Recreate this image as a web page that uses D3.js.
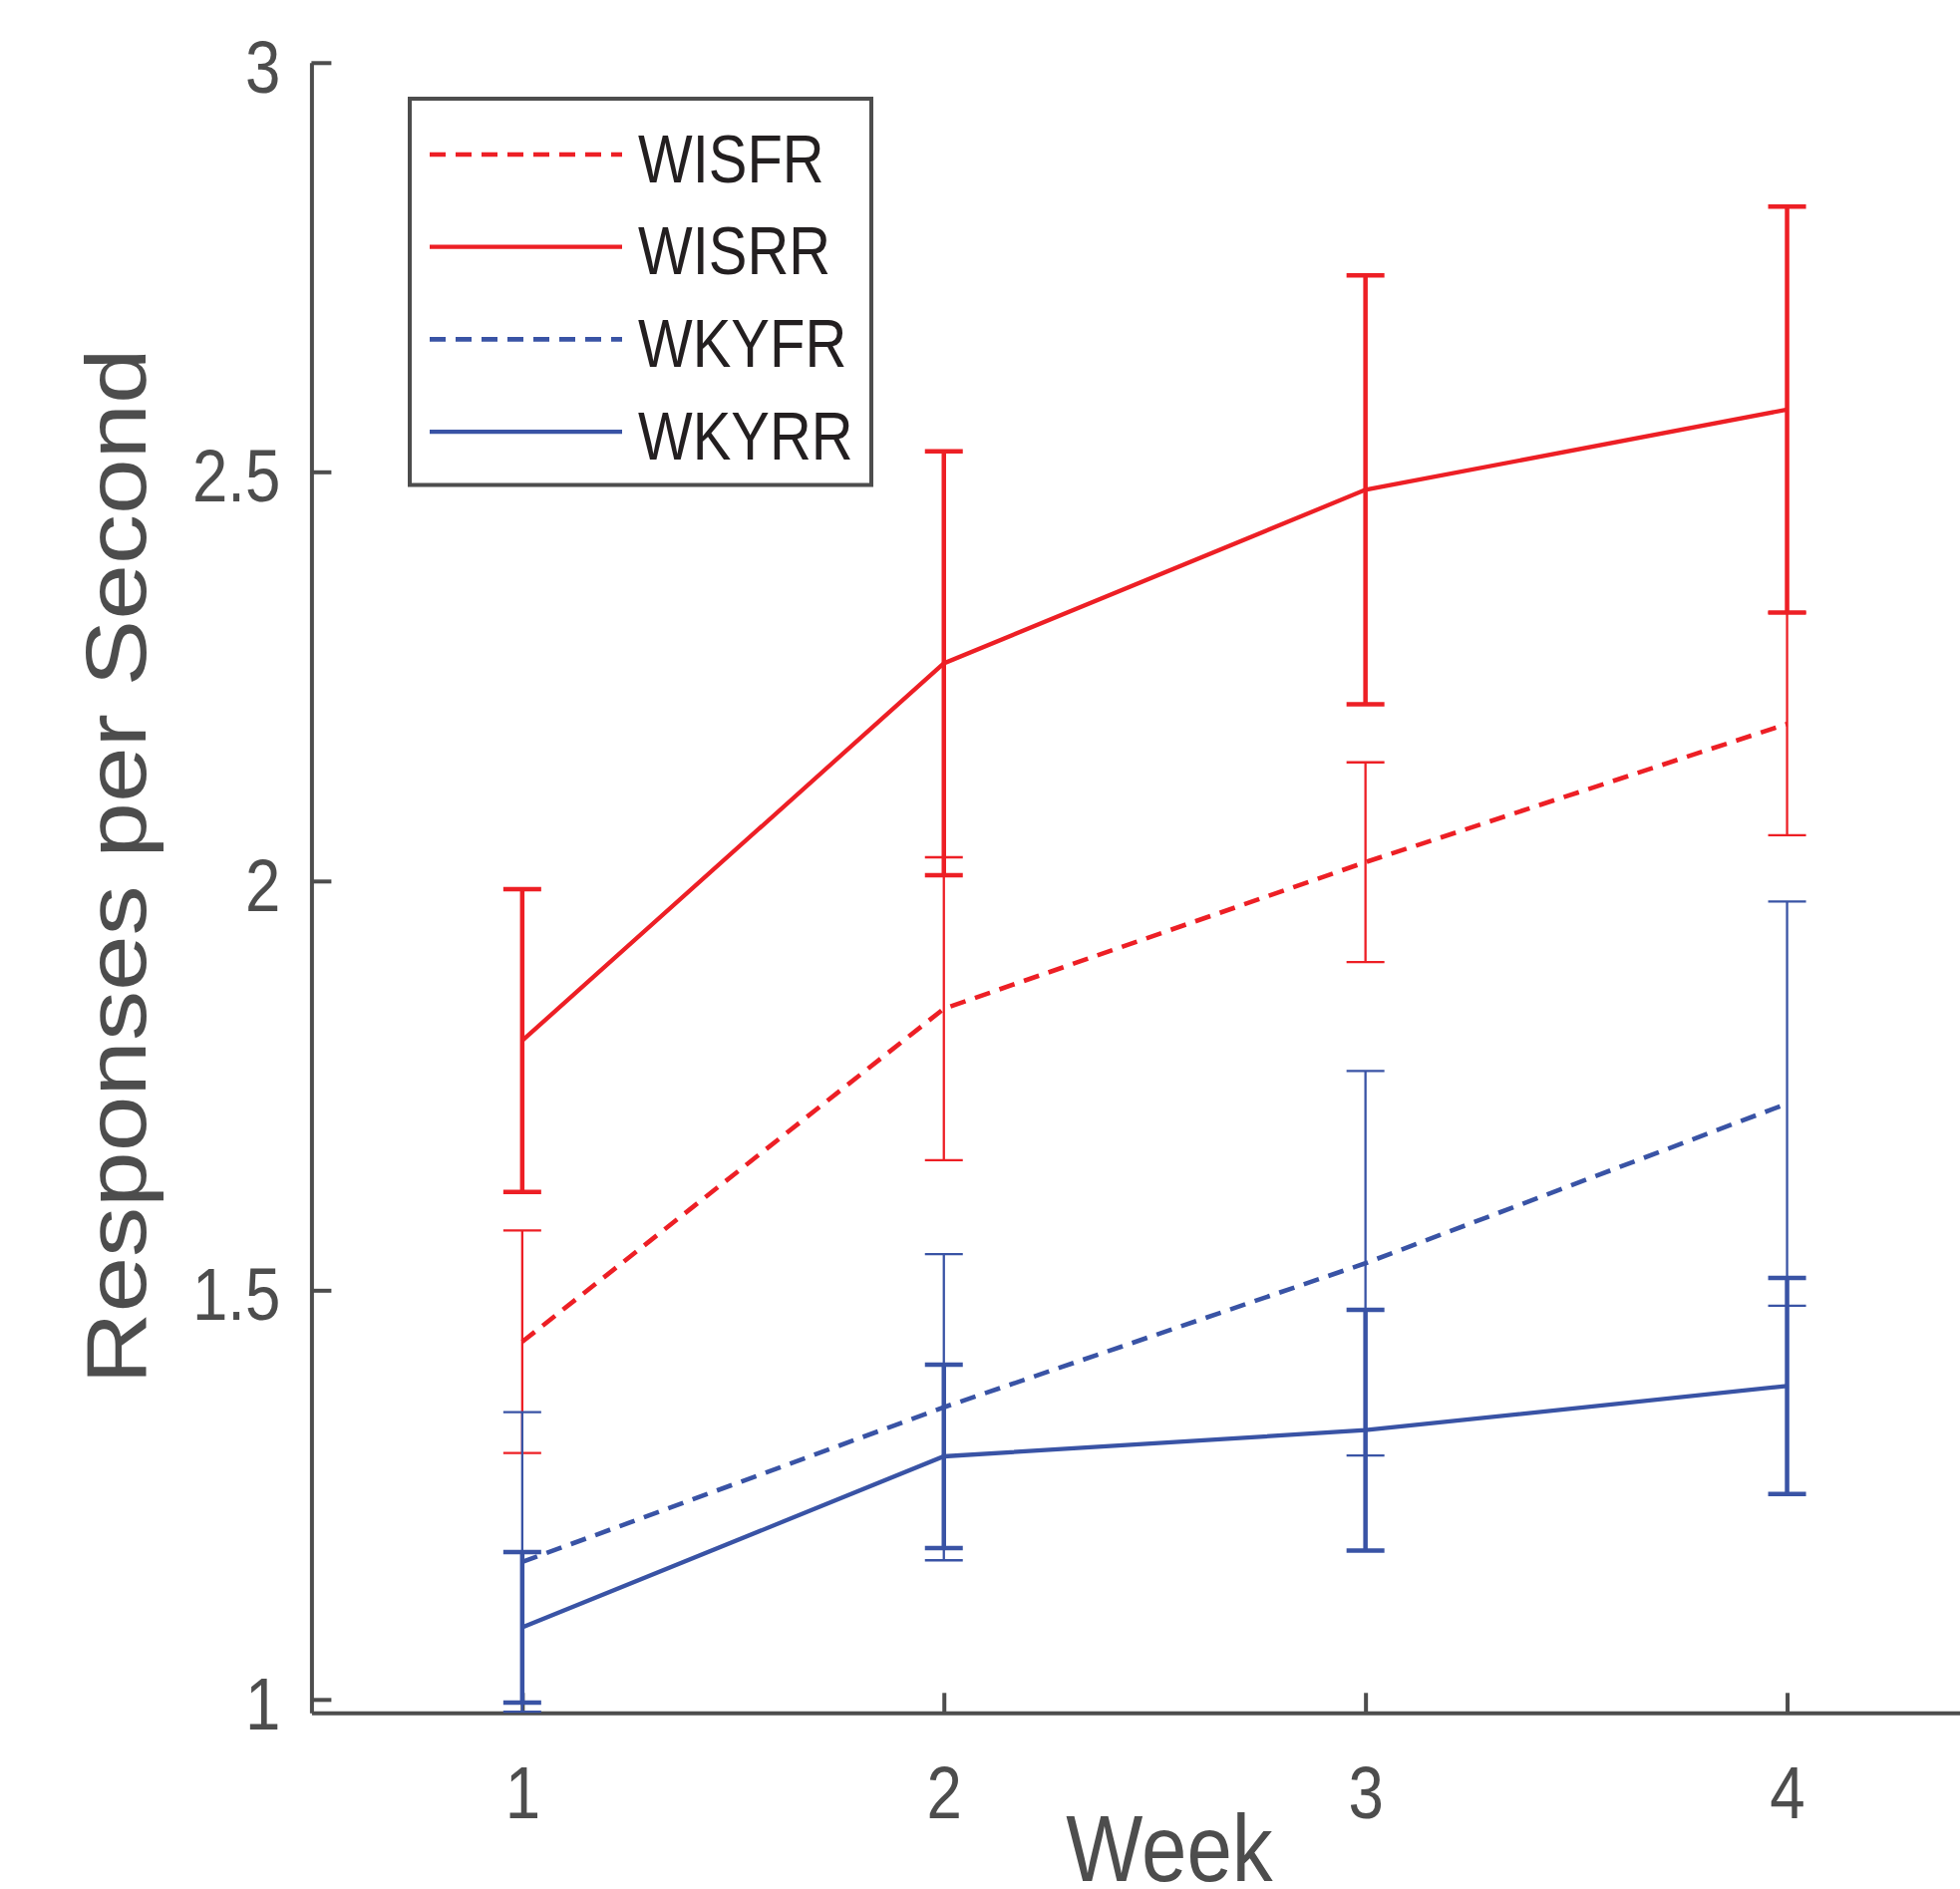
<!DOCTYPE html>
<html>
<head>
<meta charset="utf-8">
<script src="https://cdn.jsdelivr.net/npm/d3@7"></script>
<style>
  html, body { margin: 0; padding: 0; background: #fff; overflow: hidden; }
  svg { display: block; font-family: 'Liberation Sans', Arial, Helvetica, sans-serif; }
</style>
</head>
<body>
<script>
// chart values
var weeks = [1, 2, 3, 4];
var seriesNames = ['WISFR', 'WISRR', 'WKYFR', 'WKYRR'];

var wisfrMean = [1.437, 1.844, 2.023, 2.192];
var wisfrErr = [0.136, 0.185, 0.122, 0.136];
var wisrrMean = [1.805, 2.266, 2.478, 2.576];
var wisrrErr = [0.185, 0.259, 0.262, 0.248];
var wkyfrMean = [1.168, 1.357, 1.533, 1.728];
var wkyfrErr = [0.183, 0.187, 0.235, 0.247];
var wkyrrMean = [1.088, 1.297, 1.329, 1.383];
var wkyrrErr = [0.092, 0.112, 0.147, 0.132];

var yTicks = [1, 1.5, 2, 2.5, 3];
var yTickLabels = ['1', '1.5', '2', '2.5', '3'];
var xTickLabels = ['1', '2', '3', '4'];

var red = '#ed1f25';
var blue = '#3953a5';
var axisGray = '#4d4d4d';
var squish = 'scale(0.86,1)';

var width = 1966;
var height = 1895;

var series = [
  { name: seriesNames[0], mean: wisfrMean, err: wisfrErr, color: red, dashed: true },
  { name: seriesNames[1], mean: wisrrMean, err: wisrrErr, color: red, dashed: false },
  { name: seriesNames[2], mean: wkyfrMean, err: wkyfrErr, color: blue, dashed: true },
  { name: seriesNames[3], mean: wkyrrMean, err: wkyrrErr, color: blue, dashed: false }
];

var svg = d3.select('body').append('svg')
  .attr('width', width)
  .attr('height', height);

var x = d3.scaleLinear().domain([0.5, 4.5]).range([312.4, 2004]);
var y = d3.scaleLinear().domain([0.9836, 3]).range([1718.3, 62.8]);

// axes (ticks point inward, matlab style)
var yAxis = d3.axisLeft(y)
  .tickValues(yTicks)
  .tickFormat(function(d, i) { return yTickLabels[i]; })
  .tickSizeInner(-20)
  .tickSizeOuter(0);

var xAxis = d3.axisBottom(x)
  .tickValues(weeks)
  .tickFormat(function(d, i) { return xTickLabels[i]; })
  .tickSizeInner(-20)
  .tickSizeOuter(0);

var gy = svg.append('g').attr('transform', 'translate(' + x(0.5) + ',0)').call(yAxis);
var gx = svg.append('g').attr('transform', 'translate(0,' + y.range()[0] + ')').call(xAxis);

[gx, gy].forEach(function(g) {
  g.select('.domain').attr('stroke', axisGray).attr('stroke-width', 4);
  g.selectAll('.tick line').attr('stroke', axisGray).attr('stroke-width', 4);
  g.selectAll('.tick text')
    .attr('fill', axisGray)
    .style('font-size', '74px')
    .style('font-family', "'Liberation Sans', Arial, sans-serif");
});

gy.selectAll('.tick text')
  .attr('x', 0)
  .attr('dy', '0.4em')
  .attr('transform', 'translate(-31,0) ' + squish);

gx.selectAll('.tick text')
  .attr('y', 0)
  .attr('dy', 0)
  .attr('transform', 'translate(0,106) ' + squish);

// axis titles
svg.append('text')
  .attr('transform', 'translate(' + 1173 + ',1887) ' + squish)
  .attr('text-anchor', 'middle')
  .attr('fill', axisGray)
  .style('font-size', '95px')
  .text('Week');

svg.append('text')
  .attr('transform', 'translate(146,869) ' + squish + ' rotate(-90)')
  .attr('text-anchor', 'middle')
  .attr('fill', axisGray)
  .style('font-size', '100px')
  .text('Responses per Second');

// error bars + lines
var line = d3.line()
  .x(function(d) { return x(d.week); })
  .y(function(d) { return y(d.mean); });

var capHalf = 19;

series.forEach(function(s) {
  var pts = weeks.map(function(w, i) {
    return { week: w, mean: s.mean[i], err: s.err[i] };
  });
  var g = svg.append('g');
  var barWidth = s.dashed ? 2.3 : 4.5;

  var bars = g.selectAll('g.bar').data(pts).enter().append('g').attr('class', 'bar')
    .attr('stroke', s.color)
    .attr('stroke-width', barWidth);

  bars.append('line')
    .attr('x1', function(d) { return x(d.week); })
    .attr('x2', function(d) { return x(d.week); })
    .attr('y1', function(d) { return y(d.mean - d.err); })
    .attr('y2', function(d) { return y(d.mean + d.err); });

  bars.append('line')
    .attr('x1', function(d) { return x(d.week) - capHalf; })
    .attr('x2', function(d) { return x(d.week) + capHalf; })
    .attr('y1', function(d) { return y(d.mean + d.err); })
    .attr('y2', function(d) { return y(d.mean + d.err); });

  bars.append('line')
    .attr('x1', function(d) { return x(d.week) - capHalf; })
    .attr('x2', function(d) { return x(d.week) + capHalf; })
    .attr('y1', function(d) { return y(d.mean - d.err); })
    .attr('y2', function(d) { return y(d.mean - d.err); });

  g.append('path')
    .datum(pts)
    .attr('d', line)
    .attr('fill', 'none')
    .attr('stroke', s.color)
    .attr('stroke-width', s.dashed ? 4.6 : 4.3)
    .attr('stroke-dasharray', s.dashed ? '16,10' : null);
});

// legend
var legend = svg.append('g');
legend.append('rect')
  .attr('x', 411)
  .attr('y', 99)
  .attr('width', 463)
  .attr('height', 387.5)
  .attr('fill', '#fff')
  .attr('stroke', axisGray)
  .attr('stroke-width', 4);

var items = legend.selectAll('g.item').data(series).enter().append('g').attr('class', 'item')
  .attr('transform', function(d, i) { return 'translate(0,' + (155 + i * 92.7) + ')'; });

items.append('line')
  .attr('x1', 431)
  .attr('x2', 624)
  .attr('y1', 0)
  .attr('y2', 0)
  .attr('stroke', function(d) { return d.color; })
  .attr('stroke-width', function(d) { return d.dashed ? 4.6 : 4.3; })
  .attr('stroke-dasharray', function(d) { return d.dashed ? '16,10' : null; });

items.append('text')
  .attr('transform', 'translate(640,27.7) scale(0.84,1)')
  .attr('fill', '#231f20')
  .style('font-size', '69px')
  .text(function(d) { return d.name; });
</script>
</body>
</html>
